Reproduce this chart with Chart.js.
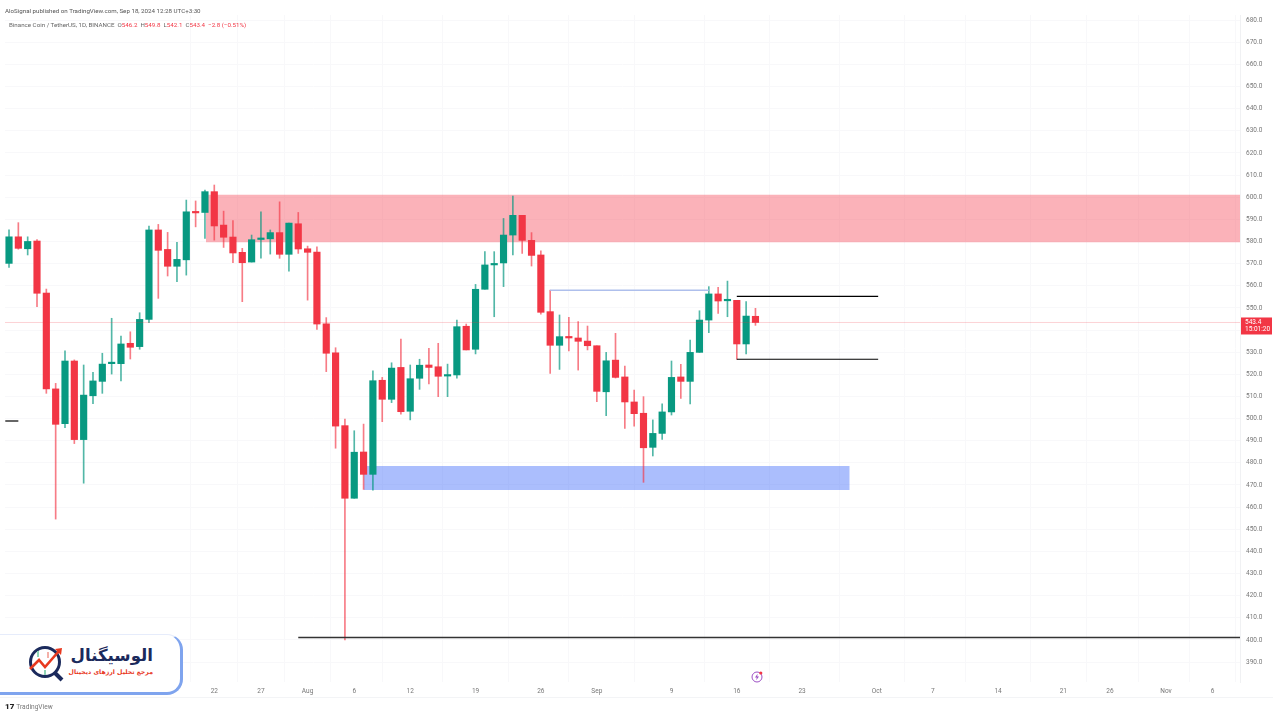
<!DOCTYPE html>
<html>
<head>
<meta charset="utf-8">
<title>Binance Coin / TetherUS</title>
<script src="https://cdn.jsdelivr.net/npm/chart.js@4"></script>
<style>
  html, body { margin: 0; padding: 0; background: #fff; }
  #wrap { position: relative; width: 1280px; height: 720px; overflow: hidden; font-family: Roboto, "Liberation Sans", sans-serif; }
  canvas { position: absolute; left: 0; top: 0; }
  .txt { position: absolute; white-space: nowrap; }
  #published { left: 5px; top: 7px; font-size: 6.2px; color: #555; }
  #legend { left: 9px; top: 21px; font-size: 6.2px; color: #666; }
  #legend b { font-weight: normal; color: #f23645; }
  #footer { left: 5px; top: 702px; font-size: 6.6px; color: #777; }
  #footer strong { color: #222; font-size: 8px; margin-right: 2px; font-weight: 900; }
  #frame { position: absolute; left: 0; top: 697px; width: 1273px; height: 1px; background: #f3f4f6; }
  #card { position: absolute; left: -20px; top: 634px; width: 200px; height: 57px; background: #fff; border-radius: 0 16px 16px 0;
          border-right: 3px solid #7fa4ee; border-bottom: 3px solid #7fa4ee; border-top: 1px solid #e6ecfb; }
  #brand { right: 1127px; top: 644px; font: bold 16.6px "DejaVu Sans", sans-serif; line-height: 24px; color: #1b2a5c; direction: rtl; }
  #slogan { right: 1127px; top: 666px; font: bold 6.2px "DejaVu Sans", sans-serif; line-height: 12px; color: #e8391f; direction: rtl; }
  #mark { position: absolute; left: 28px; top: 645px; }
  #bolt { position: absolute; left: 750px; top: 670px; }
</style>
</head>
<body>
<div id="wrap">
  <canvas id="chart" width="1280" height="720"></canvas>
  <div id="published" class="txt">AloSignal published on TradingView.com, Sep 18, 2024 12:28 UTC+3:30</div>
  <div id="legend" class="txt">Binance Coin / TetherUS, 1D, BINANCE&nbsp; O<b>546.2</b>&nbsp; H<b>549.8</b>&nbsp; L<b>542.1</b>&nbsp; C<b>543.4</b>&nbsp; <b>−2.8 (−0.51%)</b></div>
  <div id="frame"></div>
  <div id="card"></div>
  <svg id="mark" width="40" height="38" viewBox="0 0 40 38">
    <circle cx="17" cy="17" r="14.5" fill="none" stroke="#1b2a5c" stroke-width="3"/>
    <line x1="27" y1="28" x2="34" y2="35" stroke="#1b2a5c" stroke-width="4"/>
    <polyline points="2,24 11,15 17,22 31,6" fill="none" stroke="#e8391f" stroke-width="2.6"/>
    <polygon points="27,4 34,3 33,10" fill="#e8391f"/>
    <line x1="10" y1="6" x2="10" y2="12" stroke="#8fd3b6" stroke-width="2"/>
    <line x1="17" y1="25" x2="17" y2="30" stroke="#8fd3b6" stroke-width="2"/>
    <line x1="20" y1="7" x2="20" y2="13" stroke="#f4b0a8" stroke-width="2"/>
  </svg>
  <div id="brand" class="txt">الوسیگنال</div>
  <div id="slogan" class="txt">مرجع تحلیل ارزهای دیجیتال</div>
  <svg id="bolt" width="14" height="14" viewBox="0 0 14 14">
    <circle cx="7" cy="7" r="5" fill="none" stroke="#9c4fc4" stroke-width="1"/>
    <polygon points="7.6,3.8 5,7.6 6.8,7.6 6.2,10.2 9,6.4 7.2,6.4" fill="#9c4fc4"/>
    <circle cx="10.8" cy="3" r="1.6" fill="#f23645"/>
  </svg>
  <div id="footer" class="txt"><strong>17</strong>TradingView</div>
</div>
<script>
// Daily candles (Jun 30 = day 0)
const days = [0,1,2,3,4,5,6,7,8,9,10,11,12,13,14,15,16,17,18,19,20,21,22,23,24,25,26,27,28,29,30,31,32,33,34,35,36,37,38,39,40,41,42,43,44,45,46,47,48,49,50,51,52,53,54,55,56,57,58,59,60,61,62,63,64,65,66,67,68,69,70,71,72,73,74,75,76,77,78,79,80];
const opens = [570.1,582.1,576.7,580.2,556.7,513.4,497.7,526,490.5,510.3,516.8,524.8,524.8,534,532.5,544.8,585.2,576.4,568.8,571.7,593.3,593.1,602.5,587.4,582,575.1,570.7,580.9,581.2,584,574.2,588,576.7,575.2,542.8,529.7,496.8,464,484.9,474.8,517.3,508.7,523.1,503.3,518.2,524.2,523.4,519.2,519.7,541.7,531.3,558.4,569.4,570.3,582.9,591.8,580.5,573.9,548.3,533.1,537.1,536.4,535,532.9,512.1,526.4,518.8,507.5,502.4,487,493.3,503,518.8,516.8,529.9,544.5,556.3,553.2,553.4,533.7,546.2];
const highs = [585.2,588.5,582.1,580.8,558.5,515.9,530.6,526.5,524.2,520.9,529.5,545.3,537.3,539.2,547.8,587,587.7,584.1,579.6,598.7,598.3,603.2,605.5,593.7,589.4,576.9,582.9,593.4,585.2,597.9,588.3,593.1,577.9,577.6,545.6,532,499.8,494.5,497.5,521.6,518.6,525.2,535.9,524.2,526.8,531.7,534,524.6,544.5,542.7,560.6,575.4,575.4,590.4,600.5,591.8,584,575.8,558,546.8,545.7,543.8,541.8,532.9,529.9,538.5,523.7,512.9,509.9,499.4,506.6,526,524.5,535.5,548.7,559.6,559.3,562.1,553.4,552.8,549.8];
const lows = [568.3,576.5,573.9,550.5,511.4,454.6,495.9,488.7,470.8,506.7,511.4,520.1,517,526.9,531.3,543.3,554.3,564.4,561.8,564.8,586.6,581.4,580.6,577.3,570.4,552.8,570.7,572.4,574.3,572.4,566.6,574.6,553.5,540.3,521.2,486.6,400,464,468,467.7,498.6,507.2,502,499.4,513.2,515.6,509.9,509.9,518.2,531,529.2,558.4,546,559.6,573.9,574.6,568.9,547.2,520.4,522.2,530.6,521.9,531,507.6,501.3,518.3,495.6,496.6,471.2,483.1,490.6,501.6,509.1,506.6,529.9,538.8,547.5,546,526.8,529.2,542.1];
const closes = [582.1,576.9,580,556.6,513.4,497.4,526,490.5,510.6,517,524.6,525.2,533.7,532.2,544.8,585.2,576,568.8,571.9,593.4,592.9,602.5,587,581.9,574.8,570.4,580.8,581.5,584,574.2,588.3,576.6,575.1,542.7,529.5,496.6,464,484.8,474.8,517.1,508.7,522.8,503.1,518,524.1,523.1,519.1,519.7,541.5,531,558.4,569.4,569.9,582.9,591.8,580.5,573.7,548,533.1,537,536.4,534.9,532.9,512.3,526.1,518.6,507.5,502.2,486.8,493.3,503,518.6,516.8,529.9,544.5,556.3,553.1,553.6,533.7,546.3,543.4];

// Axis ticks
const dateTicks = [22,27,32,37,43,50,57,63,71,78,85,93,99,106,113,118,124,129];
const dateLabels = ["22","27","Aug","6","12","19","26","Sep","9","16","23","Oct","7","14","21","26","Nov","6"];
const priceTicks = [390,400,410,420,430,440,450,460,470,480,490,500,510,520,530,540,550,560,570,580,590,600,610,620,630,640,650,660,670,680];

// Drawings on the chart: [from day, to day, price]
const redZone = [21.1, 132, 579.6, 601.1];
const blueZone = [38, 90.1, 467.7, 478.6];
const swingLine = [58, 75, 558];
const rangeTop = [78, 93.15, 555.2];
const rangeBottom = [78, 93.15, 526.8];
const supportLine = [31, 132, 401.1];
const stubLine = [-0.4, 1, 498.9];
const lastPrice = 543.4;
const countdown = "15:01:20";

const upColor = "#089981";
const downColor = "#f23645";
const candleColor = days.map((d, i) => (closes[i] >= opens[i] ? upColor : downColor));
const wickColor = days.map((d, i) => (closes[i] >= opens[i] ? "rgba(8,153,129,0.7)" : "rgba(242,54,69,0.65)"));

function hLine(span, color, width) {
  return {
    type: "line",
    data: [{ x: span[0], y: span[2] }, { x: span[1], y: span[2] }],
    borderColor: color,
    borderWidth: width,
    pointRadius: 0,
    order: 1,
  };
}

function zone(span, color) {
  return {
    type: "line",
    data: [{ x: span[0], y: span[3] }, { x: span[1], y: span[3] }],
    borderWidth: 0,
    pointRadius: 0,
    fill: { value: span[2] },
    backgroundColor: color,
    order: 5,
  };
}

// Red price tag on the right axis
const priceTag = {
  id: "priceTag",
  afterDraw(chart) {
    const y = chart.scales.y.getPixelForValue(lastPrice);
    const c = chart.ctx;
    c.save();
    c.fillStyle = downColor;
    c.fillRect(chart.chartArea.right + 1, y - 5, 31, 17);
    c.fillStyle = "#fff";
    c.font = "6.5px Roboto";
    c.textBaseline = "middle";
    c.fillText(lastPrice.toFixed(1), chart.chartArea.right + 5, y - 0.5);
    c.fillText(countdown, chart.chartArea.right + 5, y + 7);
    c.restore();
  },
};

new Chart(document.getElementById("chart").getContext("2d"), {
  type: "bar",
  data: {
    datasets: [
      {
        data: days.map((d, i) => ({ x: d, y: [opens[i], closes[i]] })),
        backgroundColor: candleColor,
        barThickness: 6.5,
        minBarLength: 1.5,
        grouped: false,
        order: 2,
      },
      {
        data: days.map((d, i) => ({ x: d, y: [lows[i], highs[i]] })),
        backgroundColor: wickColor,
        barThickness: 1,
        grouped: false,
        order: 3,
      },
      zone(redZone, "rgba(246,84,100,0.45)"),
      zone(blueZone, "rgba(60,105,250,0.43)"),
      hLine(swingLine, "#aebfec", 1.5),
      hLine(rangeTop, "#000", 1.2),
      hLine(rangeBottom, "#000", 1.2),
      hLine(supportLine, "#333", 1.3),
      hLine(stubLine, "#000", 1.2),
      hLine([-0.43, 132, lastPrice], "rgba(242,54,69,0.22)", 1),
    ],
  },
  options: {
    responsive: false,
    animation: false,
    layout: { padding: { left: 5, top: 15, right: 0, bottom: 0 } },
    plugins: { legend: { display: false }, tooltip: { enabled: false } },
    scales: {
      x: {
        type: "linear",
        offset: false,
        min: -0.43,
        max: 131.93,
        afterFit: (s) => { s.height = 38; },
        afterBuildTicks: (s) => { s.ticks = dateTicks.map((v) => ({ value: v })); },
        grid: { color: "#f8f8fa", drawTicks: false },
        border: { display: false },
        ticks: {
          autoSkip: false,
          maxRotation: 0,
          padding: 5,
          color: "#777",
          font: { family: "Roboto", size: 6.5 },
          callback: (v) => dateLabels[dateTicks.indexOf(v)],
        },
      },
      y: {
        position: "right",
        min: 381,
        max: 682.3,
        afterFit: (s) => { s.width = 40; },
        afterBuildTicks: (s) => { s.ticks = priceTicks.map((v) => ({ value: v })); },
        grid: { color: "#f8f8fa", drawTicks: false },
        border: { color: "#f0f1f3" },
        ticks: {
          padding: 6,
          color: "#777",
          font: { family: "Roboto", size: 6.5 },
          callback: (v) => v.toFixed(1),
        },
      },
    },
  },
  plugins: [priceTag],
});
</script>
</body>
</html>
